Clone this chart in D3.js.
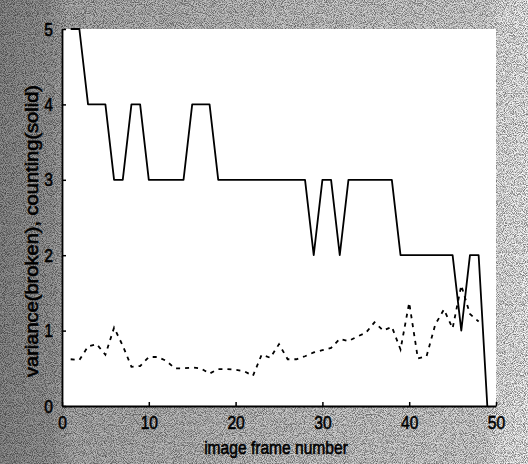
<!DOCTYPE html>
<html>
<head>
<meta charset="utf-8">
<script src="https://cdn.jsdelivr.net/npm/d3@7"></script>
<style>
  html, body { margin: 0; padding: 0; background: #fff; }
  svg { display: block; }
  text { font-family: "Liberation Sans", Arial, Helvetica, sans-serif; fill: #000; }
</style>
</head>
<body>
<div id="chart"></div>
<script>
// ---- data ----
const frames = [1,2,3,4,5,6,7,8,9,10,11,12,13,14,15,16,17,18,19,20,21,22,23,24,25,
                26,27,28,29,30,31,32,33,34,35,36,37,38,39,40,41,42,43,44,45,46,47,48,49];
const counting = [5,5,4,4,4,3,3,4,4,3,3,3,3,3,4,4,4,
                  3,3,3,3,3,3,3,3,3,3,3,
                  2,3,3,2,
                  3,3,3,3,3,3,
                  2,2,2,2,2,2,2,
                  1,2,2,0];
const variance = [0.62,0.61,0.79,0.82,0.68,1.04,0.80,0.52,0.53,0.65,
                  0.65,0.60,0.50,0.50,0.51,0.50,0.43,0.49,0.49,0.48,
                  0.46,0.40,0.68,0.64,0.82,0.62,0.62,0.66,0.71,0.74,
                  0.77,0.89,0.86,0.92,0.97,1.11,1.00,1.05,0.75,1.37,
                  0.63,0.66,1.08,1.28,1.03,1.60,1.22,1.12];
const xTicks = [0,10,20,30,40,50];
const yTicks = [0,1,2,3,4,5];
const xLabel = "image frame number";
const yLabel = "variance(broken), counting(solid)";

const W = 528, H = 464;
const svg = d3.select("#chart").append("svg").attr("width", W).attr("height", H);

// ---- scanned-paper background ----
const defs = svg.append("defs");
const grad = defs.append("linearGradient").attr("id", "bg").attr("x1", "0").attr("y1", "0").attr("x2", "1").attr("y2", "0");
[["0", "#8e8e8e"], ["0.1", "#9c9c9c"], ["0.13", "#b2b2b2"], ["0.5", "#c8c8c8"],
 ["0.92", "#dcdcdc"], ["0.945", "#eeeeee"], ["1", "#f6f6f6"]].forEach(([o, c]) =>
  grad.append("stop").attr("offset", o).attr("stop-color", c));
const f = defs.append("filter").attr("id", "noise").attr("filterUnits", "userSpaceOnUse")
  .attr("x", 0).attr("y", 0).attr("width", W).attr("height", H);
f.append("feTurbulence").attr("type", "fractalNoise").attr("baseFrequency", 1.1).attr("numOctaves", 1).attr("seed", 7).attr("result", "t");
f.append("feColorMatrix").attr("in", "t").attr("type", "matrix")
  .attr("values", "0 0 0 0 0  0 0 0 0 0  0 0 0 0 0  3.2 0 0 0 -1.25");

svg.append("rect").attr("width", W).attr("height", H).attr("fill", "url(#bg)");
svg.append("rect").attr("width", W).attr("height", H).attr("fill", "#000").attr("opacity", 0.5).attr("filter", "url(#noise)");

// ---- scales ----
const x = d3.scaleLinear().domain([0, 50]).range([62, 496]);
const y = d3.scaleLinear().domain([0, 5]).range([406, 29]);

// plot area
svg.append("rect").attr("x", x(0)).attr("y", y(5)).attr("width", x(50) - x(0)).attr("height", y(0) - y(5)).attr("fill", "#fff");

// ---- lines ----
const line = d3.line().x((d, i) => x(frames[i])).y(d => y(d));
svg.append("path").datum(counting).attr("d", line)
  .attr("fill", "none").attr("stroke", "#000").attr("stroke-width", 1.8).attr("stroke-linejoin", "round");
svg.append("path").datum(variance).attr("d", line)
  .attr("fill", "none").attr("stroke", "#000").attr("stroke-width", 1.8).attr("stroke-dasharray", "4,5");

// ---- axes ----
const gx = svg.append("g").attr("transform", `translate(0,${y(0)})`)
  .call(d3.axisBottom(x).tickValues(xTicks).tickFormat(d3.format("d")).tickSize(-4).tickSizeOuter(0).tickPadding(10));
const gy = svg.append("g").attr("transform", `translate(${x(0)},0)`)
  .call(d3.axisLeft(y).tickValues(yTicks).tickFormat(d3.format("d")).tickSize(-4).tickSizeOuter(0).tickPadding(9));
[gx, gy].forEach(g => {
  g.select(".domain").attr("stroke", "#000").attr("stroke-width", 1.8);
  g.selectAll(".tick line").attr("stroke", "#000").attr("stroke-width", 1.5);
  g.selectAll(".tick text").attr("font-size", 19).attr("font-family", null);
});

svg.append("text").attr("class", "xl").attr("x", 276).attr("y", 454).attr("text-anchor", "middle")
  .attr("font-size", 19).text(xLabel);
svg.append("text").attr("class", "yl").attr("transform", `translate(38,231) rotate(-90)`).attr("text-anchor", "middle")
  .attr("font-size", 18).text(yLabel);

// condense horizontal text and thicken strokes like the scanned original
svg.selectAll(".tick text, .xl").each(function() {
  const len = this.getComputedTextLength();
  d3.select(this).attr("textLength", len * 0.82).attr("lengthAdjust", "spacingAndGlyphs");
});
d3.select(".yl").attr("textLength", 292).attr("lengthAdjust", "spacingAndGlyphs");
svg.selectAll("text").attr("stroke", "#000").attr("stroke-width", 0.6);
</script>
</body>
</html>
